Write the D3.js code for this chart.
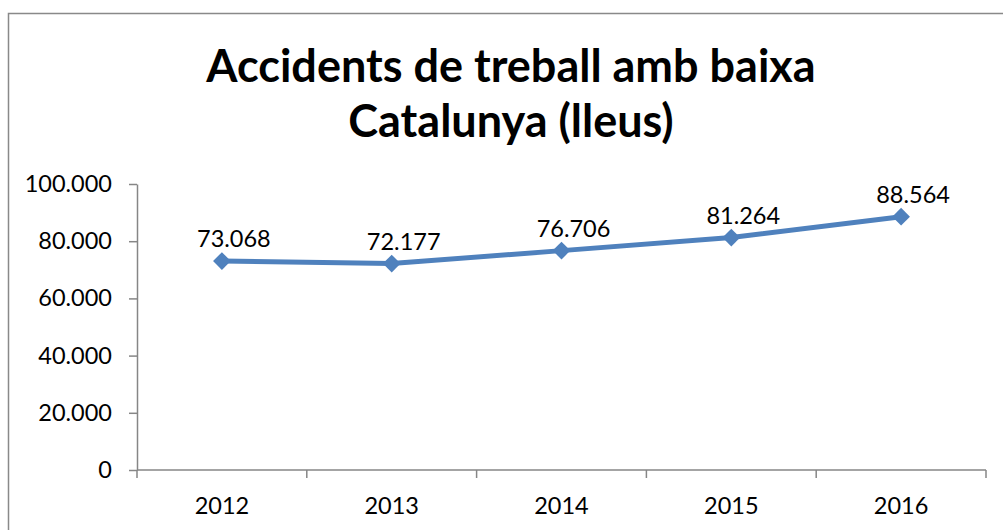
<!DOCTYPE html>
<html>
<head>
<meta charset="utf-8">
<script src="https://cdn.jsdelivr.net/npm/d3@7"></script>
<style>
  body { margin: 0; background: #fff; }
  text { font-family: Lato, "Open Sans", sans-serif; fill: #000; }
</style>
</head>
<body>
<div id="chart"></div>
<script>
const years = ['2012', '2013', '2014', '2015', '2016'];
const accidents = [73068, 72177, 76706, 81264, 88564];
const yTicks = [0, 20000, 40000, 60000, 80000, 100000];
const titleLines = ['Accidents de treball amb baixa', 'Catalunya (lleus)'];

const width = 1003, height = 530;
const svg = d3.select('#chart').append('svg')
  .attr('width', width)
  .attr('height', height);

// chart frame (extends past the right/bottom edge like the original)
svg.append('rect')
  .attr('x', 8.5).attr('y', 13.5)
  .attr('width', 1006).attr('height', 540)
  .attr('fill', 'none')
  .attr('stroke', '#898989')
  .attr('stroke-width', 1.5);

const fmt = v => d3.format(',')(v).replace(/,/g, '.');

const x = d3.scaleBand().domain(years).range([137, 986]);
const y = d3.scaleLinear().domain([0, 100000]).range([470, 184]);

// title
svg.append('g').selectAll('text')
  .data(titleLines)
  .join('text')
    .attr('x', 511)
    .attr('y', (d, i) => 82 + i * 55)
    .attr('text-anchor', 'middle')
    .style('font-size', '45px')
    .style('font-weight', 'bold')
    .text(d => d);

// y axis
const yAxis = svg.append('g')
  .attr('transform', 'translate(137,0)')
  .call(d3.axisLeft(y).tickValues(yTicks).tickFormat(fmt).tickSize(8).tickSizeOuter(0).tickPadding(17));
yAxis.select('.domain').attr('stroke', '#868686').attr('stroke-width', 1.5);
yAxis.selectAll('.tick line').attr('stroke', '#868686').attr('stroke-width', 1.5);
yAxis.selectAll('.tick text').style('font-size', '23.5px').attr('fill', '#000');

// x axis with category boundary ticks
const xAxis = svg.append('g').attr('transform', 'translate(0,470)');
xAxis.append('line')
  .attr('x1', x.range()[0]).attr('x2', x.range()[1])
  .attr('stroke', '#868686').attr('stroke-width', 1.5);
const bounds = years.map(d => x(d)).concat([x.range()[1]]);
xAxis.selectAll('line.tk')
  .data(bounds)
  .join('line')
    .attr('class', 'tk')
    .attr('x1', d => d).attr('x2', d => d)
    .attr('y1', 0).attr('y2', 8)
    .attr('stroke', '#868686').attr('stroke-width', 1.5);
xAxis.selectAll('text')
  .data(years)
  .join('text')
    .attr('x', d => x(d) + x.bandwidth() / 2)
    .attr('y', 44)
    .attr('text-anchor', 'middle')
    .style('font-size', '23.5px')
    .text(d => d);

// line + markers
const cx = (d, i) => x(years[i]) + x.bandwidth() / 2;
const line = d3.line().x(cx).y(d => y(d));
svg.append('path')
  .datum(accidents)
  .attr('d', line)
  .attr('fill', 'none')
  .attr('stroke', '#4F81BD')
  .attr('stroke-width', 5)
  .attr('stroke-linejoin', 'round');

const diamond = d3.symbol().type(d3.symbolDiamond2).size(200);
svg.selectAll('path.mk')
  .data(accidents)
  .join('path')
    .attr('class', 'mk')
    .attr('d', diamond)
    .attr('transform', (d, i) => `translate(${cx(d, i)},${y(d)})`)
    .attr('fill', '#4F81BD');

// data labels
svg.selectAll('text.lbl')
  .data(accidents)
  .join('text')
    .attr('class', 'lbl')
    .attr('x', (d, i) => cx(d, i) + 12)
    .attr('y', d => y(d) - 14)
    .attr('text-anchor', 'middle')
    .style('font-size', '23.5px')
    .text(fmt);
</script>
</body>
</html>
